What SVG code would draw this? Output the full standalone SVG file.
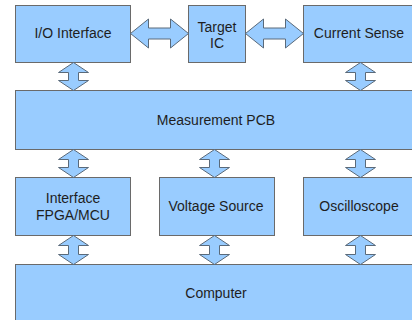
<svg xmlns="http://www.w3.org/2000/svg" width="412" height="320" viewBox="0 0 412 320">
<style>
.box{fill:#99ccff;stroke:#6a6a6a;stroke-width:1}
.arr{fill:#99ccff;stroke:#5a6a7a;stroke-width:1;stroke-linejoin:miter}
text{font-family:"Liberation Sans",Arial,sans-serif;font-size:14px;fill:#1e1e1e;text-anchor:middle}
</style>
<rect width="412" height="320" fill="#ffffff"/>
<g id="io"><rect class="box" x="15.5" y="5.5" width="115" height="57"/><text x="73" y="38">I/O Interface</text></g>
<g id="target"><rect class="box" x="188.5" y="5.5" width="57" height="57"/><text x="217" y="32">Target</text><text x="217" y="48">IC</text></g>
<g id="current"><rect class="box" x="303.5" y="5.5" width="120" height="57"/><text x="359" y="38">Current Sense</text></g>
<g id="pcb"><rect class="box" x="15.5" y="90.5" width="408" height="59"/><text x="216" y="125">Measurement PCB</text></g>
<g id="fpga"><rect class="box" x="15.5" y="177.5" width="115" height="58"/><text x="73" y="203">Interface</text><text x="73" y="220">FPGA/MCU</text></g>
<g id="voltage"><rect class="box" x="159.5" y="177.5" width="115" height="58"/><text x="216" y="211">Voltage Source</text></g>
<g id="scope"><rect class="box" x="303.5" y="177.5" width="120" height="58"/><text x="359" y="211">Oscilloscope</text></g>
<g id="computer"><rect class="box" x="15.5" y="264.5" width="408" height="70"/><text x="216" y="298">Computer</text></g>
<g id="connectors">
<polygon class="arr" points="130.5,33.5 148.5,19 148.5,28 170.5,28 170.5,19 188.5,33.5 170.5,48 170.5,39 148.5,39 148.5,48"/>
<polygon class="arr" points="245.5,33.5 263.5,19 263.5,28 285.5,28 285.5,19 303.5,33.5 285.5,48 285.5,39 263.5,39 263.5,48"/>
<polygon class="arr" points="73.5,62.5 88.5,72.5 78.5,72.5 78.5,80.5 88.5,80.5 73.5,90.5 58.5,80.5 68.5,80.5 68.5,72.5 58.5,72.5"/>
<polygon class="arr" points="360.5,62.5 375.5,72.5 365.5,72.5 365.5,80.5 375.5,80.5 360.5,90.5 345.5,80.5 355.5,80.5 355.5,72.5 345.5,72.5"/>
<polygon class="arr" points="73.5,149.5 88.5,159.5 78.5,159.5 78.5,167.5 88.5,167.5 73.5,177.5 58.5,167.5 68.5,167.5 68.5,159.5 58.5,159.5"/>
<polygon class="arr" points="214.5,149.5 229.5,159.5 219.5,159.5 219.5,167.5 229.5,167.5 214.5,177.5 199.5,167.5 209.5,167.5 209.5,159.5 199.5,159.5"/>
<polygon class="arr" points="360.5,149.5 375.5,159.5 365.5,159.5 365.5,167.5 375.5,167.5 360.5,177.5 345.5,167.5 355.5,167.5 355.5,159.5 345.5,159.5"/>
<polygon class="arr" points="73.5,235.5 88.5,245.5 78.5,245.5 78.5,254.5 88.5,254.5 73.5,264.5 58.5,254.5 68.5,254.5 68.5,245.5 58.5,245.5"/>
<polygon class="arr" points="214.5,235.5 229.5,245.5 219.5,245.5 219.5,254.5 229.5,254.5 214.5,264.5 199.5,254.5 209.5,254.5 209.5,245.5 199.5,245.5"/>
<polygon class="arr" points="360.5,235.5 375.5,245.5 365.5,245.5 365.5,254.5 375.5,254.5 360.5,264.5 345.5,254.5 355.5,254.5 355.5,245.5 345.5,245.5"/>
</g>
</svg>
